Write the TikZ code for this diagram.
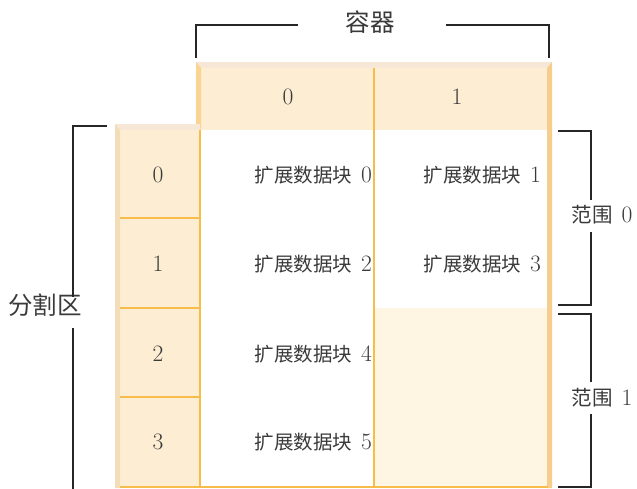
\documentclass[tikz,border=0pt]{standalone}
\usepackage{fontspec}
\newfontfamily\cjk{Noto Sans CJK SC}
\usetikzlibrary{positioning}
\definecolor{hdrfill}{HTML}{FDEED3}
\definecolor{hdrtop}{HTML}{F6E7D6}
\definecolor{hdrleft}{HTML}{FAD592}
\definecolor{partleft}{HTML}{F3DDB9}
\definecolor{gridline}{HTML}{F7BD4A}
\definecolor{rstrip}{HTML}{F6CD8C}
\definecolor{creamfill}{HTML}{FEF6E3}
\definecolor{txtgray}{HTML}{3A3A3A}
\newcommand{\dig}[1]{{\fontsize{23.5}{24}\selectfont #1}}
\tikzset{
  numtext/.style={text=txtgray, inner sep=0pt, font=\fontsize{23.5}{24}\selectfont},
  extent/.style={text=txtgray, inner sep=0pt, font=\fontsize{19.5}{21}\selectfont},
  bigtext/.style={text=txtgray, inner sep=1pt, font=\fontsize{24.5}{26}\selectfont\cjk},
  rangetext/.style={text=txtgray, inner sep=1pt, font=\fontsize{20.5}{22}\selectfont},
  bracket/.style={draw=black!85, line width=1.6pt},
  grid/.style={draw=gridline, line width=1.5pt}
}
\begin{document}
\begin{tikzpicture}[x=1pt,y=-1pt]
\useasboundingbox (0,0) rectangle (637,488);

% header of containers
\fill[hdrfill] (196,62) rectangle (552,130);
\fill[hdrtop] (196,62)--(552,62)--(547,68)--(201,68)--cycle;
\fill[hdrleft] (196,62)--(201,68)--(201,130)--(196,124)--cycle;

% cells
\fill[white] (200,130) rectangle (548,488);
\fill[creamfill] (374,308) rectangle (548,488);
\fill[rstrip] (547,68)--(552,62)--(552,488)--(547,488)--cycle;

% partitions
\fill[hdrfill] (115,124) rectangle (200,488);
\fill[hdrtop] (115,124)--(200,124)--(200,130)--(120,130)--cycle;
\fill[partleft] (115,124)--(120,130)--(120,488)--(115,488)--cycle;

\draw[grid] (374,68)--(374,488);
\draw[grid] (200,130)--(200,488);
\foreach \y in {218,308,397}{
\draw[grid] (120,\y)--(200,\y);
}
\draw[grid] (120,487)--(548,487);

% labels
\node[numtext] (c0) at (288,97) {0};
\node[numtext] (c1) at (457,97) {1};
\foreach \i/\y in {0/175,1/264,2/354,3/442}{
\node[numtext] (p\i) at (158,\y) {\i};
}
\foreach \i/\x/\y in {0/372/175,1/541/175,2/372/264,3/541/264,4/372/354,5/372/442}{
\node[extent, anchor=east] (e\i) at (\x,\y) {{\cjk 扩展数据块}\hspace{9pt}\dig{\i}};
}

% brackets
\node[bigtext] (cont) at (370,22) {容器};
\draw[bracket] (196,58) |- (298,25);
\draw[bracket] (446,25) -| (549,58);

\node[bigtext] (part) at (45,305) {分割区};
\draw[bracket] (107,126) -| (73,297);
\draw[bracket] (73,328)--(73,490);

\node[rangetext] (r0) at (602,215) {{\cjk 范围}\hspace{9pt}\dig{0}};
\draw[bracket] (558,131) -| (591,200);
\draw[bracket] (591,232) |- (558,305);

\node[rangetext] (r1) at (602,398) {{\cjk 范围}\hspace{9pt}\dig{1}};
\draw[bracket] (558,314) -| (591,382);
\draw[bracket] (591,414) |- (558,487);
\end{tikzpicture}
\end{document}
